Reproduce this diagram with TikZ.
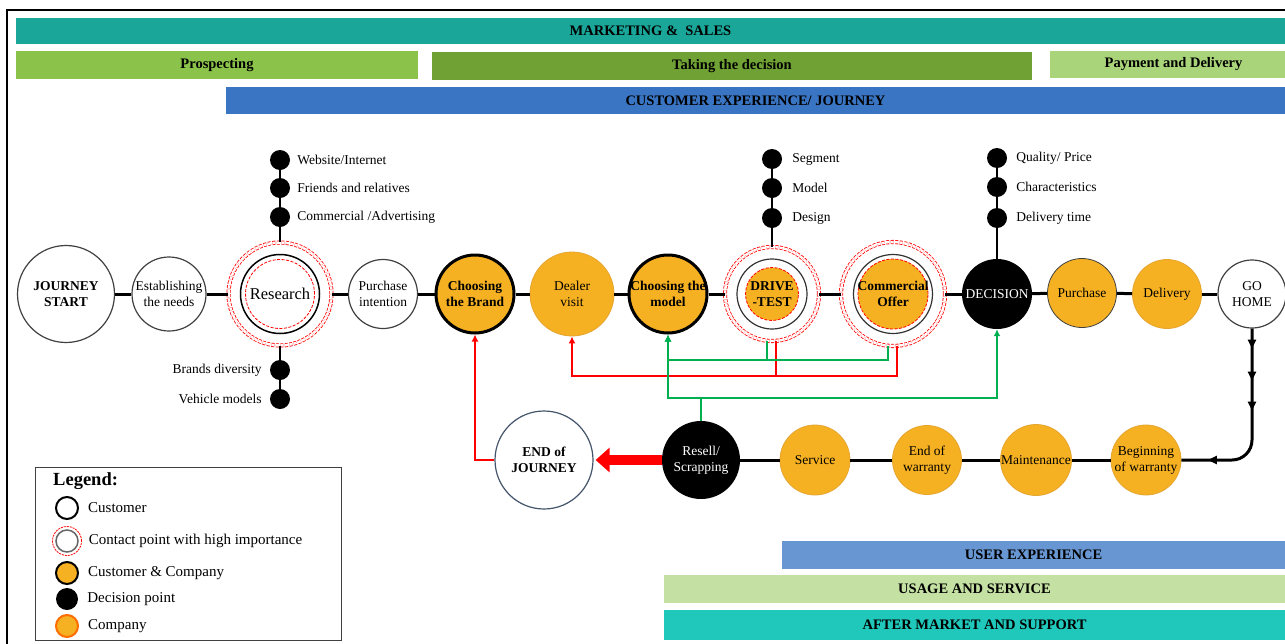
\documentclass[tikz,border=0pt]{standalone}
\usepackage{fontspec}
\setmainfont{Liberation Serif}
\usetikzlibrary{positioning}
\usetikzlibrary{arrows.meta}
\usetikzlibrary{decorations.markings}
\usepackage{xcolor}

\definecolor{mktteal}{RGB}{26,166,153}
\definecolor{prosgreen}{RGB}{139,195,74}
\definecolor{decgreen}{RGB}{112,161,52}
\definecolor{paygreen}{RGB}{169,212,122}
\definecolor{cxblue}{RGB}{58,117,196}
\definecolor{uxblue}{RGB}{104,150,210}
\definecolor{usegreen}{RGB}{196,224,162}
\definecolor{aftteal}{RGB}{31,200,186}
\definecolor{orng}{RGB}{246,177,34}
\definecolor{orngline}{RGB}{228,165,50}
\definecolor{linkgreen}{RGB}{0,176,80}
\definecolor{slate}{RGB}{68,84,106}

\newcommand\nfont{\fontsize{13.5}{16}\selectfont}

\tikzset{
    bar/.style={rectangle, inner sep=0pt, font=\bfseries\fontsize{14.5}{16}\selectfont},
    txt/.style={align=center, inner sep=0pt, font=\nfont},
    t/.style={label={[txt]center:#1}},
    bt/.style={label={[txt,font=\bfseries\nfont]center:#1}},
    wt/.style={label={[txt,text=white]center:#1}},
    circ/.style={circle, inner sep=0pt, minimum size=#1},
    cust/.style={circ=#1, draw=black!75, line width=1.2pt, fill=white},
    both/.style={circ=#1, draw=black, line width=3pt, fill=orng},
    comp/.style={circ=#1, draw=orngline, line width=0.8pt, fill=orng},
    deci/.style={circ=#1, fill=black},
    hiring/.style={circ=#1, draw=red, line width=0.8pt, dash pattern=on 3pt off 1.5pt,
        double=white, double distance=2.5pt, fill=white},
    road/.style={line width=3pt},
    sat/.style={circle, fill=black, minimum size=20pt, inner sep=0pt},
    satline/.style={line width=1.5pt},
    satlbl/.style={font=\nfont, inner sep=0pt},
    leglbl/.style={font=\fontsize{15}{17}\selectfont, inner sep=0pt},
    redline/.style={red, line width=2pt, -{Latex[length=7pt,width=7pt]}},
    grnline/.style={linkgreen, line width=2pt, -{Latex[length=7pt,width=7pt]}},
}

\begin{document}
\begin{tikzpicture}[x=1pt,y=-1pt]
    \useasboundingbox (0,0) rectangle (1285,643);
    \clip (0,0) rectangle (1285,643);
    \draw[line width=2pt] (7,10) rectangle (1300,660);

    % bars
    \node[bar, fill=mktteal, minimum width=1269pt, minimum height=26pt] (mkt) at (650.5,31) {MARKETING \&\ \ SALES};
    \node[bar, fill=prosgreen, minimum width=402pt, minimum height=28pt] (prosp) at (217,65) {Prospecting};
    \node[bar, fill=decgreen, minimum width=600pt, minimum height=28pt] (taking) at (732,66) {Taking the decision};
    \node[bar, fill=paygreen, minimum width=247pt, minimum height=27pt] (pay) at (1173.5,64.5) {Payment and Delivery};
    \node[bar, fill=cxblue, minimum width=1059pt, minimum height=27pt] (cx) at (755.5,100.5) {CUSTOMER EXPERIENCE/ JOURNEY};
    \node[bar, fill=uxblue, minimum width=503pt, minimum height=28pt] (ux) at (1033.5,555) {USER EXPERIENCE};
    \node[bar, fill=usegreen, minimum width=621pt, minimum height=28pt] (usage) at (974.5,589) {USAGE AND SERVICE};
    \node[bar, fill=aftteal, minimum width=621pt, minimum height=30pt] (after) at (974.5,625) {AFTER MARKET AND SUPPORT};

    % journey
    \node[cust=97pt, bt={JOURNEY\\START}] (start) at (66,294) {};
    \node[cust=74pt, t={Establishing\\the needs}] (needs) at (169,294) {};
    \node[hiring=103pt] (researcho) at (280,294) {};
    \node[cust=79pt, line width=1.5pt, draw=black,
        label={[txt,font=\fontsize{16.5}{18}\selectfont]center:Research}] (research) at (280,294) {};
    \draw[red, line width=0.8pt, dash pattern=on 3pt off 1.5pt] (research) circle[radius=34.5pt];
    \node[cust=69pt, t={Purchase\\intention}] (pint) at (383,294) {};
    \node[both=78pt, bt={Choosing\\the Brand}] (brand) at (475,294) {};
    \node[comp=84pt, t={Dealer\\visit}] (dealer) at (572,294) {};
    \node[both=78pt, bt={Choosing the\\model}] (model) at (668,294) {};
    \node[hiring=94pt] (driveo) at (772,294) {};
    \draw[line width=1.2pt, black!80] (driveo) circle[radius=35pt];
    \node[circ=53pt, fill=orng, draw=red, line width=0.8pt, dash pattern=on 3pt off 1.5pt,
        bt={DRIVE\\-TEST}] (drive) at (772,294) {};
    \node[hiring=104pt] (offero) at (893,294) {};
    \draw[line width=1.2pt, black!80] (offero) circle[radius=39.5pt];
    \node[circ=70pt, fill=orng, draw=red, line width=0.8pt, dash pattern=on 3pt off 1.5pt,
        bt={Commercial\\Offer}] (offer) at (893,294) {};
    \node[deci=70pt, wt={DECISION}] (decision) at (997,294) {};
    \node[comp=69pt, draw=black!75, t={Purchase}] (purchase) at (1082,293) {};
    \node[comp=69pt, t={Delivery}] (delivery) at (1167,294) {};
    \node[cust=68pt, t={GO\\HOME}] (gohome) at (1252,294) {};

    \node[cust=98pt, draw=slate, bt={END of\\JOURNEY}] (endj) at (544,460) {};
    \node[deci=78pt, wt={Resell/\\Scrapping}] (resell) at (701,460) {};
    \node[comp=70pt, t={Service}] (service) at (815,460) {};
    \node[comp=69pt, t={End of\\warranty}] (endw) at (927,460) {};
    \node[comp=71pt, t={Maintenance}] (maint) at (1036,460) {};
    \node[comp=70pt, t={Beginning\\of warranty}] (bwarr) at (1146,460) {};

    \foreach \a/\b in {start/needs, needs/researcho, researcho/pint, pint/brand, brand/dealer,
            dealer/model, model/driveo, driveo/offero, offero/decision, decision/purchase,
            purchase/delivery, delivery/gohome, resell/service, service/endw, endw/maint, maint/bwarr}
        \draw[road] (\a) -- (\b);

    \draw[road, rounded corners=20pt, postaction={decorate}, decoration={markings,
            mark=at position 20pt with {\arrow{Triangle[length=9pt,width=8pt]}},
            mark=at position 52pt with {\arrow{Triangle[length=9pt,width=8pt]}},
            mark=at position 82pt with {\arrow{Triangle[length=9pt,width=8pt]}},
            mark=at position 167pt with {\arrow{Triangle[length=9pt,width=8pt]}}}]
        (gohome) |- (bwarr);

    \draw[red, line width=10pt, -{Triangle[length=14pt,width=24pt]}, shorten >=2pt] (resell) -- (endj);

    % feedback links
    \draw[redline] (endj) -| (brand);
    \draw[redline] ([xshift=4pt]offero.south) |- (dealer.south |- 0,376) -- (dealer);
    \draw[redline,-] ([xshift=4pt]driveo.south) -- ([xshift=4pt]driveo.south |- 0,376);
    \draw[grnline] ([xshift=-5pt]offero.south) |- (model.south |- 0,360) -- (model);
    \draw[grnline,-] ([xshift=-5pt]driveo.south) -- ([xshift=-5pt]driveo.south |- 0,360);
    \draw[grnline] (resell) |- (model.south |- 0,398) -- (model);
    \draw[grnline] (resell) |- (decision.south |- 0,398) -- (decision);

    % touch points
    \foreach \y/\t [count=\i] in {160/{Website/Internet}, 188/{Friends and relatives}, 217/{Commercial /Advertising}}{
        \node[sat] (r\i) at (280,\y) {};
        \node[satlbl, right=7pt of r\i] {\t};
    }
    \draw[satline] (r1) -- (r2) -- (r3) -- (researcho);
    \foreach \y/\t [count=\i] in {370/{Brands diversity}, 399/{Vehicle models}}{
        \node[sat] (b\i) at (280,\y) {};
        \node[satlbl, left=8pt of b\i] {\t};
    }
    \draw[satline] (researcho) -- (b1) -- (b2);
    \foreach \y/\t [count=\i] in {159/Segment, 188/Model, 218/Design}{
        \node[sat] (d\i) at (772,\y) {};
        \node[satlbl, right=10pt of d\i] {\t};
    }
    \draw[satline] (d1) -- (d2) -- (d3) -- (driveo);
    \foreach \y/\t [count=\i] in {158/{Quality/ Price}, 187/{Characteristics}, 218/{Delivery time}}{
        \node[sat] (q\i) at (997,\y) {};
        \node[satlbl, right=9pt of q\i] {\t};
    }
    \draw[satline] (q1) -- (q2) -- (q3) -- (decision);

    % legend
    \draw[black!75, line width=1pt] (35,467) rectangle (341,640);
    \node[anchor=west, inner sep=0pt, font=\bfseries\fontsize{18.5}{20}\selectfont] (legend) at (53,481) {Legend:};
    \node[circ=22pt, draw=black, line width=2pt, fill=white] (l1) at (67,508) {};
    \node[circ=29pt, draw=red, line width=0.8pt, dash pattern=on 2pt off 1pt] (l2o) at (67,541) {};
    \node[circ=22pt, draw=black!60, line width=1.5pt] (l2) at (67,541) {};
    \node[circ=22pt, draw=black, line width=2pt, fill=orng] (l3) at (67,573) {};
    \node[circ=22pt, fill=black] (l4) at (67,599) {};
    \node[circ=22pt, draw=orange!85!red, line width=2pt, fill=orng] (l5) at (67,626) {};
    \node[leglbl, right=9pt of l1] {Customer};
    \node[leglbl, right=10pt of l2] {Contact point with high importance};
    \node[leglbl, right=9pt of l3] {Customer \& Company};
    \node[leglbl, right=9pt of l4] {Decision point};
    \node[leglbl, right=9pt of l5] {Company};
\end{tikzpicture}
\end{document}
